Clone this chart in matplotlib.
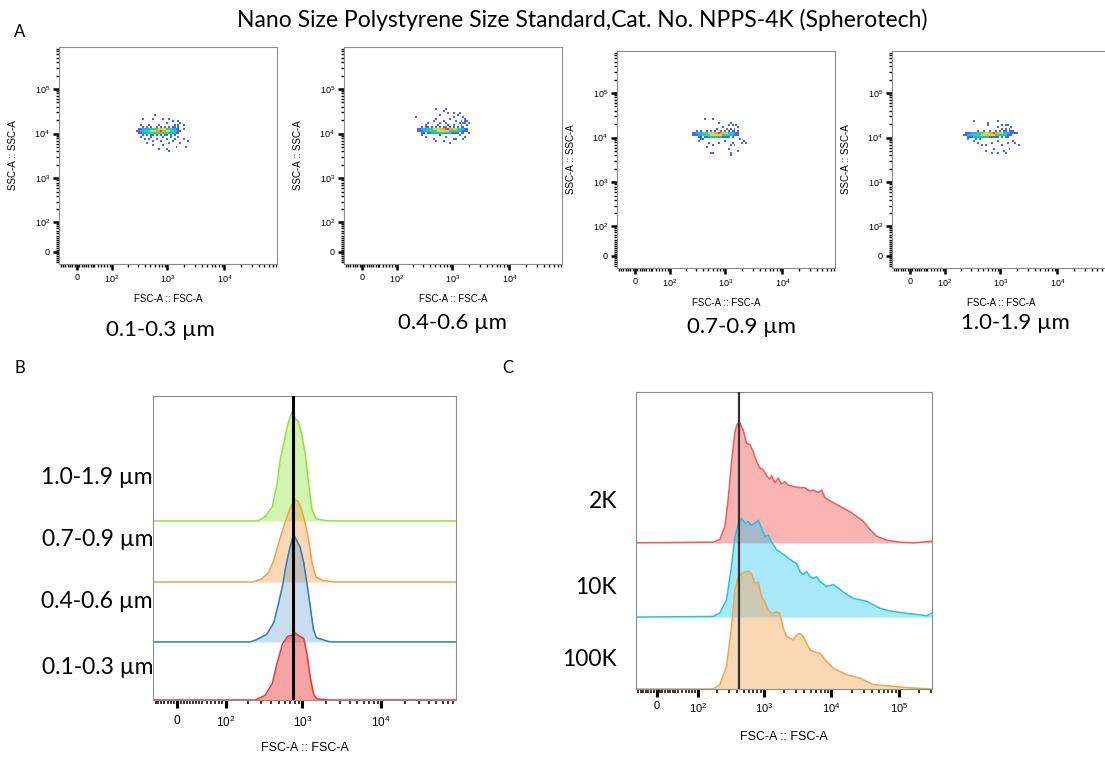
import numpy as np
import matplotlib
matplotlib.use('Agg')
import matplotlib.pyplot as plt
from matplotlib.colors import ListedColormap

W, H = 1105, 758

title = 'Nano Size Polystyrene Size Standard,Cat. No. NPPS-4K (Spherotech)'
bead_sizes = ['0.1-0.3 µm', '0.4-0.6 µm', '0.7-0.9 µm', '1.0-1.9 µm']
particles = ['2K', '10K', '100K']

# A: FSC-A / SSC-A pseudocolour plots.
# one string per row (top row first), '.' = no events, 1 (blue) .. 6 (red) = density
grid_fsc = (170, 3100)     # FSC-A range covered by the grid
grid_ssc = (2600, 37900)   # SSC-A range covered by the grid
dens_01_03 = [
    '', '', '',
    '...............1',
    '',
    '.........1....1....1..1',
    '........................1..1',
    '.....................1......1',
    '........1...1....1.......1.1..1',
    '.........1.1.1..1.1.1.1.11.1',
    '.......112222333344443332211..1',
    '......11223334445565544332211',
    '.......112223333333333222211',
    '.........1.1.11.1.1.11.1.1',
    '........1....1.....1...1...1',
    '..........1.1...1....1...1....1',
    '..............1...1.....1.......1',
    '...........1..........1.....1',
    '..............1....1',
    '..........................1....1',
    '.................1...1',
    '......................1',
    '', '', '', '',
]
dens_04_06 = [
    '.............1....1',
    '.................1',
    '...................1..1..1',
    '...............1........1',
    '...1..................1....1',
    '.............1......1.......1',
    '............1....1.....1..1.11',
    '.........1.....1..1......1.11.1',
    '........1.....1....1..1...1..1',
    '......1.11.1.1.1.11.1.1.1.11',
    '....11222333444455665544332211',
    '....11122233334444443333222111',
    '......11.1122222222221111.11..1',
    '......1........1.........1',
    '........1.........1.........1',
    '............1.........11...1',
    '.............1...1',
    '....................1',
    '', '', '', '', '', '', '', '',
]
dens_07_09 = [
    '', '', '',
    '...........1...1',
    '',
    '..................1.....1',
    '.......................1.1.1',
    '....................1.......1',
    '.................1....1.1.1',
    '.......1.1..1.1.1..1.1.1.11.1',
    '.....112223334445565544332211',
    '.....111223333444444333322111',
    '........11.1122222221111.1',
    '.........11..................1',
    '........1............1.........1',
    '.............1....1......1....1.1',
    '...............1........1.1',
    '............1',
    '.......................1',
    '............................1',
    '..............11........1',
    '........................1',
    '', '', '', '',
]
dens_10_19 = [
    '', '', '', '',
    '........1...........1',
    '...............1',
    '...............1......1.11',
    '....................1......1',
    '......................1.1.1',
    '..........1..1..1..1.1.11.111',
    '....111222333444556554433221111',
    '...1122233334445444333222111',
    '.....1112222222211111.1.11',
    '.....1...1.1',
    '........1...........1.......1',
    '..........1......1.......1...1',
    '............1.1.......1........1',
    '',
    '..................1.......1',
    '..............1........1',
    '.................1..1...1',
    '', '', '', '', '',
]

# B: FSC-A histograms (% of mode)
b_fsc_01_03 = [-50, 250, 336, 415, 477, 560, 650, 750, 810, 938, 1040, 1140, 1256, 1380, 1510, 2120, 100000]
b_pct_01_03 = [0, 0, 7, 25, 55, 84, 95, 97, 100, 95, 92, 70, 35, 10, 2, 0, 0]
b_fsc_04_06 = [-50, 215, 257, 350, 432, 500, 560, 605, 670, 750, 790, 855, 938, 1040, 1140, 1256, 1380, 1510, 2250, 100000]
b_pct_04_06 = [0, 0, 2, 7, 18, 37, 53, 68, 84, 98, 100, 95, 89, 75, 56, 34, 12, 4, 0, 0]
b_fsc_07_09 = [-50, 232, 305, 375, 432, 500, 580, 675, 750, 790, 890, 980, 1085, 1200, 1330, 1490, 1830, 2600, 100000]
b_pct_07_09 = [0, 0, 4, 12, 26, 47, 67, 85, 95, 100, 97, 87, 71, 51, 22, 6, 2, 0, 0]
b_fsc_10_19 = [-50, 272, 336, 415, 477, 523, 580, 640, 700, 750, 810, 890, 980, 1085, 1200, 1330, 1490, 2120, 100000]
b_pct_10_19 = [0, 0, 4, 13, 34, 56, 71, 86, 96, 100, 94, 91, 80, 62, 34, 10, 2, 0, 0]
b_gate = 765

# C: FSC-A histograms (% of mode)
c_fsc_2k = [-50, 174, 220, 263, 294, 330, 371, 401, 440, 494, 553, 620, 695, 779, 873, 979, 1097, 1230,
            1301, 1459, 1633, 1830, 2050, 2300, 2730, 3430, 4060, 4820, 5400, 6400, 7180, 8040, 9540,
            11960, 15000, 18850, 23700, 29700, 37300, 46800, 65900, 104000, 164000, 306000, 340000]
c_pct_2k = [0, 0.6, 2.8, 13.9, 36, 67, 92, 99, 100, 94, 83, 82, 76, 68, 62.5, 61, 56, 53,
            56, 50, 54, 49, 51, 48, 47, 46, 46, 43, 44, 42, 44, 37.5, 35,
            32, 29, 26, 22, 18, 11, 5.6, 2.2, 0.6, 0, 1.4, 1.4]
c_fsc_10k = [-50, 174, 220, 278, 330, 371, 416, 466, 523, 586, 657, 736, 825, 925, 1036, 1162, 1301,
             1543, 1730, 2170, 2730, 3060, 3430, 3840, 4300, 4820, 5400, 6050, 6780, 8510, 10700,
             13400, 16800, 21100, 26500, 33300, 41800, 52500, 65900, 82700, 104000, 146000, 205000,
             258000, 306000, 340000]
c_pct_10k = [0, 0.7, 4, 17.5, 51, 81, 94, 100, 95, 96.6, 93, 95, 98, 90, 81.5, 83, 76,
             68, 66, 61, 56, 54, 46, 43, 46, 41, 39, 41, 36, 31, 33,
             28, 23, 19, 17.5, 16, 12.5, 9, 7, 5.7, 4.7, 3.4, 2.4,
             1.3, 4, 4]
c_fsc_100k = [-50, 174, 220, 278, 330, 371, 416, 466, 523, 586, 657, 736, 825, 925, 1036, 1162, 1301,
              1543, 1730, 1940, 2170, 2730, 3060, 3430, 3840, 4300, 4820, 5400, 6780, 8510, 10700,
              13400, 16800, 21100, 26500, 33300, 41800, 65900, 104000, 164000, 306000, 340000]
c_pct_100k = [0, 0, 3.7, 19, 52.8, 83.7, 95, 97.8, 99.2, 100, 97.8, 89.3, 90.7, 78.1, 73.9, 66.9, 64,
              65.4, 64, 51.4, 44.4, 41.6, 45.8, 47.2, 44.4, 38.8, 33.1, 31.7, 30.3, 23.3, 17.7,
              14.9, 12.1, 10.7, 9.3, 6.5, 3.7, 2.8, 1.7, 0.8, 0, 0]
c_gate = 426

plt.rcParams['font.family'] = ['Liberation Sans', 'DejaVu Sans']
plt.rcParams['mathtext.fontset'] = 'custom'
plt.rcParams['mathtext.rm'] = 'Liberation Sans'
plt.rcParams['mathtext.it'] = 'Liberation Sans:italic'
plt.rcParams['mathtext.bf'] = 'Liberation Sans:bold'

BIG = ['Lato', 'DejaVu Sans']
SPINE = '#8c8c8c'
DENS_CMAP = ListedColormap(['#4866f2', '#1cb6ec', '#2fd48a', '#c9e33a', '#f6a323', '#e8442a'])

fig = plt.figure(figsize=(W / 100, H / 100), dpi=100)


def px_axes(left, top, width, height):
    return fig.add_axes([left / W, 1 - (top + height) / H, width / W, height / H])


def biex(c):
    return (lambda v: np.arcsinh(np.asarray(v, dtype=float) / c),
            lambda u: c * np.sinh(np.asarray(u, dtype=float)))


def flow_ticks(axis, majors, lo, hi):
    labels = ['0' if m == 0 else r'$10^{%d}$' % round(np.log10(m)) for m in majors]
    minors = set(range(-35, 40, 5)) | {k * 10 ** d for d in range(1, 6) for k in range(1, 10)}
    minors = sorted(m for m in minors if lo < m < hi and m not in majors)
    axis.set_ticks(majors)
    axis.set_ticklabels(labels)
    axis.set_ticks(minors, minor=True)


def frame(ax):
    for s in ax.spines.values():
        s.set_color(SPINE)
        s.set_linewidth(0.8)


fig.text(582 / W, 1 - 20 / H, title, ha='center', va='center', fontsize=16.5, family=BIG)
for letter, (x, y) in zip('ABC', [(20, 32), (20, 368), (508, 368)]):
    fig.text(x / W, 1 - y / H, letter, ha='center', va='center', fontsize=12, family=BIG)

# ---------------- A ----------------
a_left = [59, 344, 617, 892]
a_top = [47, 47, 51, 51]
a_label_pos = [(160, 330), (452, 323), (742, 327), (1015, 323)]
fwd_x, inv_x = biex(52)
fwd_y, inv_y = biex(45)
n_rows, n_cols = 26, 36
fsc_edges = inv_x(np.linspace(fwd_x(grid_fsc[0]), fwd_x(grid_fsc[1]), n_cols + 1))
ssc_edges = inv_y(np.linspace(fwd_y(grid_ssc[1]), fwd_y(grid_ssc[0]), n_rows + 1))

for i, dens in enumerate([dens_01_03, dens_04_06, dens_07_09, dens_10_19]):
    ax = px_axes(a_left[i], a_top[i], 218, 217)
    ax.set_xscale('function', functions=(fwd_x, inv_x))
    ax.set_yscale('function', functions=(fwd_y, inv_y))
    ax.set_xlim(-41, 83900)
    ax.set_ylim(-30, 871000)
    grid = np.array([[np.nan if ch == '.' else float(ch) for ch in row.ljust(n_cols, '.')[:n_cols]]
                     for row in dens])
    ax.pcolormesh(fsc_edges, ssc_edges, np.ma.masked_invalid(grid), cmap=DENS_CMAP,
                  vmin=0.5, vmax=6.5, shading='flat', linewidth=0, antialiased=False)
    flow_ticks(ax.xaxis, [0, 1e2, 1e3, 1e4], -41, 83900)
    flow_ticks(ax.yaxis, [0, 1e2, 1e3, 1e4, 1e5], -30, 871000)
    ax.tick_params(which='major', length=4, width=1.8, labelsize=6.5, pad=2.5, color='k')
    ax.tick_params(which='minor', length=2.5, width=1.0, color='k')
    frame(ax)
    ax.set_xlabel('FSC-A :: FSC-A', fontsize=7, va='center')
    ax.xaxis.set_label_coords(0.5, -35 / 217)
    ax.set_ylabel('SSC-A :: SSC-A', fontsize=7, va='center')
    ax.yaxis.set_label_coords(-46 / 218, 0.5)
    lx, ly = a_label_pos[i]
    fig.text(lx / W, 1 - ly / H, bead_sizes[i], ha='center', va='center', fontsize=16, family=BIG)

# ---------------- B ----------------
axb = px_axes(153, 396, 303, 304)
axb.set_xscale('function', functions=(fwd_x, inv_x))
axb.set_xlim(-40, 88600)
axb.set_ylim(0, 1)
b_fsc = [b_fsc_01_03, b_fsc_04_06, b_fsc_07_09, b_fsc_10_19]
b_pct = [b_pct_01_03, b_pct_04_06, b_pct_07_09, b_pct_10_19]
b_colors = ['#ef3535', '#2b7bbf', '#f5a04a', '#8fe33d']
b_alpha = [0.45, 0.25, 0.40, 0.40]
b_base = [0.0, 0.191, 0.388, 0.589]
b_height = [0.220, 0.349, 0.273, 0.359]
b_label_y = [667, 602, 540, 478]
for i in reversed(range(4)):
    x = np.array(b_fsc[i], dtype=float)
    y = b_base[i] + np.array(b_pct[i]) / 100 * b_height[i]
    axb.fill_between(x, b_base[i], y, color=b_colors[i], alpha=b_alpha[i], linewidth=0)
    axb.plot(x, y, color=b_colors[i], lw=1.1)
    fig.text(153 / W, 1 - b_label_y[i] / H, bead_sizes[i], ha='right', va='center',
             fontsize=16.5, family=BIG)
axb.axvline(b_gate, color='k', lw=2.2, zorder=5)
flow_ticks(axb.xaxis, [0, 1e2, 1e3, 1e4], -40, 88600)
axb.set_yticks([])
axb.tick_params(which='major', length=5.5, width=2.2, labelsize=8.5, pad=5, color='k')
axb.tick_params(which='minor', length=3, width=1.1, color='k')
frame(axb)
axb.set_xlabel('FSC-A :: FSC-A', fontsize=9, va='center')
axb.xaxis.set_label_coords(0.5, -48 / 304)

# ---------------- C ----------------
axc = px_axes(636, 392, 296, 297)
axc.set_xscale('function', functions=(fwd_x, inv_x))
axc.set_xlim(-40, 309000)
axc.set_ylim(0, 1)
c_fsc = [c_fsc_2k, c_fsc_10k, c_fsc_100k]
c_pct = [c_pct_2k, c_pct_10k, c_pct_100k]
c_colors = ['#f25a5a', '#1fc3ee', '#f7a24c']
c_alpha = [0.45, 0.38, 0.42]
c_base = [0.492, 0.242, 0.0]
c_height = [0.404, 0.333, 0.397]
c_label_y = [502, 587, 660]
for i in range(3):
    x = np.array(c_fsc[i], dtype=float)
    y = c_base[i] + np.array(c_pct[i]) / 100 * c_height[i]
    axc.fill_between(x, c_base[i], y, color=c_colors[i], alpha=c_alpha[i], linewidth=0)
    axc.plot(x, y, color=c_colors[i], lw=1.1)
    fig.text(617 / W, 1 - c_label_y[i] / H, particles[i], ha='right', va='center',
             fontsize=16.5, family=BIG)
axc.axvline(c_gate, color='#333333', lw=1.6, zorder=5)
flow_ticks(axc.xaxis, [0, 1e2, 1e3, 1e4, 1e5], -40, 309000)
axc.set_yticks([])
axc.tick_params(which='major', length=5.5, width=2.2, labelsize=8, pad=3, color='k')
axc.tick_params(which='minor', length=3, width=1.1, color='k')
frame(axc)
axc.set_xlabel('FSC-A :: FSC-A', fontsize=9, va='center')
axc.xaxis.set_label_coords(0.5, -48 / 297)

fig.savefig('out.png', dpi=100)
